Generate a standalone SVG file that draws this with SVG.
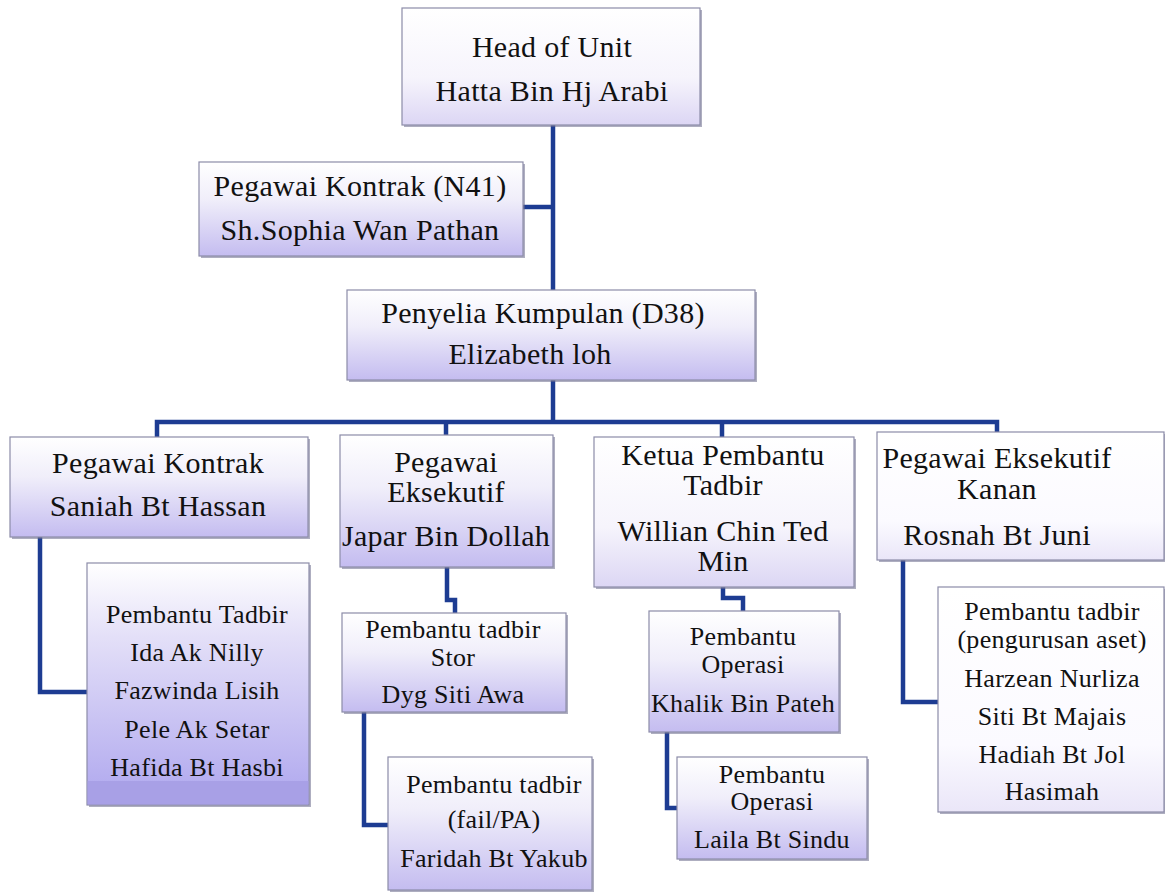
<svg xmlns="http://www.w3.org/2000/svg" width="1165" height="893" viewBox="0 0 1165 893">
<style>
.box{stroke:#8c8ca8;stroke-width:1.2}
.sh{fill:#6c6c8c;opacity:0.55}
.t{font-family:"Liberation Serif","Times New Roman",serif;fill:#111;text-anchor:middle}
.big{font-size:30px;letter-spacing:0.3px}
.sm{font-size:26px;letter-spacing:0.3px}
.conn{fill:none;stroke:#1d3c92;stroke-width:4.5;stroke-linejoin:miter}
</style>
<defs>
<linearGradient id="gLight" x1="0" y1="0" x2="0" y2="1">
<stop offset="0" stop-color="#ffffff"/><stop offset="0.6" stop-color="#f6f4fc"/><stop offset="1" stop-color="#dcd6f4"/>
</linearGradient>
<linearGradient id="gMid" x1="0" y1="0" x2="0" y2="1">
<stop offset="0" stop-color="#ffffff"/><stop offset="0.4" stop-color="#f0eefa"/><stop offset="1" stop-color="#c4bcf0"/>
</linearGradient>
<linearGradient id="gList" x1="0" y1="0" x2="0" y2="1">
<stop offset="0" stop-color="#ffffff"/><stop offset="0.3" stop-color="#e4e0f8"/><stop offset="1" stop-color="#aea6ee"/>
</linearGradient>
<linearGradient id="gFaint" x1="0" y1="0" x2="0" y2="1">
<stop offset="0" stop-color="#ffffff"/><stop offset="0.7" stop-color="#fbfaff"/><stop offset="1" stop-color="#eae6f8"/>
</linearGradient>
</defs>
<rect width="1165" height="893" fill="#ffffff"/>

<g id="connectors">
<path class="conn" d="M553 125 V290"/>
<path class="conn" d="M523 207 H553"/>
<path class="conn" d="M553 380 V422"/>
<path class="conn" d="M157 437 V422 H997 V432"/>
<path class="conn" d="M446 422 V435"/>
<path class="conn" d="M722 422 V437"/>
<path class="conn" d="M40 537 V692 H87"/>
<path class="conn" d="M447 567 V600 H455 V613"/>
<path class="conn" d="M364 712 V825 H388"/>
<path class="conn" d="M723 587 V598 H743 V611"/>
<path class="conn" d="M667 732 V808 H677"/>
<path class="conn" d="M903 560 V702 H938"/>
</g>

<g id="head">
<rect class="sh" x="404" y="10" width="298" height="117"/>
<rect class="box" x="402" y="8" width="298" height="117" fill="url(#gLight)"/>
<text class="t big" x="552" y="57">Head of Unit</text>
<text class="t big" x="552" y="101">Hatta Bin Hj Arabi</text>
</g>

<g id="n41">
<rect class="sh" x="201" y="164" width="324" height="94"/>
<rect class="box" x="199" y="162" width="324" height="94" fill="url(#gMid)"/>
<text class="t big" x="360" y="196">Pegawai Kontrak (N41)</text>
<text class="t big" x="360" y="240">Sh.Sophia Wan Pathan</text>
</g>

<g id="penyelia">
<rect class="sh" x="349" y="292" width="408" height="90"/>
<rect class="box" x="347" y="290" width="408" height="90" fill="url(#gMid)"/>
<text class="t big" x="543" y="323">Penyelia Kumpulan (D38)</text>
<text class="t big" x="530" y="364">Elizabeth loh</text>
</g>

<g id="saniah">
<rect class="sh" x="12" y="439" width="298" height="100"/>
<rect class="box" x="10" y="437" width="298" height="100" fill="url(#gMid)"/>
<text class="t big" x="158" y="473">Pegawai Kontrak</text>
<text class="t big" x="158" y="516">Saniah Bt Hassan</text>
</g>

<g id="japar">
<rect class="sh" x="342" y="437" width="213" height="132"/>
<rect class="box" x="340" y="435" width="213" height="132" fill="url(#gMid)"/>
<text class="t big" x="446" y="472">Pegawai</text>
<text class="t big" x="446" y="502">Eksekutif</text>
<text class="t big" x="446" y="546">Japar Bin Dollah</text>
</g>

<g id="willian">
<rect class="sh" x="596" y="439" width="260" height="150"/>
<rect class="box" x="594" y="437" width="260" height="150" fill="url(#gLight)"/>
<text class="t big" x="723" y="465">Ketua Pembantu</text>
<text class="t big" x="723" y="495">Tadbir</text>
<text class="t big" x="723" y="541">Willian Chin Ted</text>
<text class="t big" x="723" y="571">Min</text>
</g>

<g id="rosnah">
<rect class="sh" x="879" y="434" width="287" height="128"/>
<rect class="box" x="877" y="432" width="287" height="128" fill="url(#gFaint)"/>
<text class="t big" x="997" y="468">Pegawai Eksekutif</text>
<text class="t big" x="997" y="499">Kanan</text>
<text class="t big" x="997" y="545">Rosnah Bt Juni</text>
</g>

<g id="list1">
<rect class="sh" x="89" y="565" width="222" height="242"/>
<rect class="box" x="87" y="563" width="222" height="242" fill="url(#gList)"/>
<rect x="87.6" y="781" width="220.8" height="23.4" fill="#a8a0e6"/>
<text class="t sm" x="197" y="623">Pembantu Tadbir</text>
<text class="t sm" x="197" y="661">Ida Ak Nilly</text>
<text class="t sm" x="197" y="699">Fazwinda Lisih</text>
<text class="t sm" x="197" y="738">Pele Ak Setar</text>
<text class="t sm" x="197" y="776">Hafida Bt Hasbi</text>
</g>

<g id="stor">
<rect class="sh" x="344" y="615" width="224" height="99"/>
<rect class="box" x="342" y="613" width="224" height="99" fill="url(#gMid)"/>
<text class="t sm" x="453" y="638">Pembantu tadbir</text>
<text class="t sm" x="453" y="666">Stor</text>
<text class="t sm" x="453" y="703">Dyg Siti Awa</text>
</g>

<g id="fail">
<rect class="sh" x="390" y="759" width="204" height="133"/>
<rect class="box" x="388" y="757" width="204" height="133" fill="url(#gMid)"/>
<text class="t sm" x="494" y="793">Pembantu tadbir</text>
<text class="t sm" x="494" y="828">(fail/PA)</text>
<text class="t sm" x="494" y="867">Faridah Bt Yakub</text>
</g>

<g id="khalik">
<rect class="sh" x="651" y="613" width="190" height="121"/>
<rect class="box" x="649" y="611" width="190" height="121" fill="url(#gMid)"/>
<text class="t sm" x="743" y="645">Pembantu</text>
<text class="t sm" x="743" y="673">Operasi</text>
<text class="t sm" x="743" y="712">Khalik Bin Pateh</text>
</g>

<g id="laila">
<rect class="sh" x="679" y="759" width="190" height="102"/>
<rect class="box" x="677" y="757" width="190" height="102" fill="url(#gMid)"/>
<text class="t sm" x="772" y="783">Pembantu</text>
<text class="t sm" x="772" y="810">Operasi</text>
<text class="t sm" x="772" y="848">Laila Bt Sindu</text>
</g>

<g id="aset">
<rect class="sh" x="940" y="589" width="226" height="225"/>
<rect class="box" x="938" y="587" width="226" height="225" fill="url(#gFaint)"/>
<text class="t sm" x="1052" y="620">Pembantu tadbir</text>
<text class="t sm" x="1052" y="648">(pengurusan aset)</text>
<text class="t sm" x="1052" y="687">Harzean Nurliza</text>
<text class="t sm" x="1052" y="725">Siti Bt Majais</text>
<text class="t sm" x="1052" y="763">Hadiah Bt Jol</text>
<text class="t sm" x="1052" y="800">Hasimah</text>
</g>
</svg>
